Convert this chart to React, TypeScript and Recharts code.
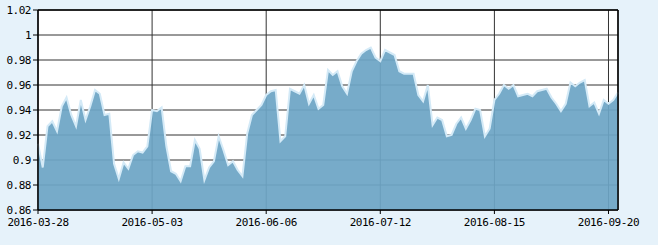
import { AreaChart, Area, XAxis, YAxis, CartesianGrid, ReferenceLine } from 'recharts';

// trading days, 2016-03-28 .. 2016-09-22 (weekends + CN holidays skipped)
const START = '2016-03-28';
const END = '2016-09-22';
const HOLIDAYS = ['2016-04-04', '2016-05-02', '2016-06-09', '2016-06-10', '2016-09-15', '2016-09-16'];

const buildDates = (): string[] => {
  const out: string[] = [];
  const d = new Date(START + 'T00:00:00Z');
  const end = new Date(END + 'T00:00:00Z');
  while (d <= end) {
    const s = d.toISOString().slice(0, 10);
    const wd = d.getUTCDay();
    if (wd !== 0 && wd !== 6 && !HOLIDAYS.includes(s)) out.push(s);
    d.setUTCDate(d.getUTCDate() + 1);
  }
  return out;
};

const DATES = buildDates();

const VALUES = [
  0.913, 0.894, 0.927, 0.931, 0.923, 0.943, 0.950, 0.936, 0.927, 0.948,
  0.932, 0.943, 0.956, 0.953, 0.936, 0.937, 0.897, 0.885, 0.898, 0.893,
  0.904, 0.907, 0.906, 0.911, 0.940, 0.939, 0.942, 0.911, 0.891, 0.889,
  0.883, 0.895, 0.895, 0.916, 0.909, 0.884, 0.894, 0.899, 0.919, 0.908,
  0.896, 0.899, 0.892, 0.887, 0.921, 0.936, 0.940, 0.944, 0.952, 0.955,
  0.956, 0.915, 0.919, 0.957, 0.955, 0.953, 0.960, 0.945, 0.952, 0.941,
  0.944, 0.972, 0.968, 0.971, 0.959, 0.953, 0.971, 0.979, 0.985, 0.988,
  0.990, 0.982, 0.979, 0.988, 0.986, 0.984, 0.971, 0.969, 0.969, 0.969,
  0.952, 0.947, 0.960, 0.928, 0.934, 0.932, 0.919, 0.920, 0.929, 0.934,
  0.925, 0.932, 0.941, 0.940, 0.919, 0.925, 0.948, 0.953, 0.960, 0.957,
  0.960, 0.951, 0.952, 0.953, 0.951, 0.955, 0.956, 0.957, 0.950, 0.945,
  0.939, 0.945, 0.962, 0.959, 0.962, 0.964, 0.943, 0.946, 0.937, 0.948,
  0.945, 0.948, 0.954,
];

const X_TICKS = ['2016-03-28', '2016-05-03', '2016-06-06', '2016-07-12', '2016-08-15', '2016-09-20'];
const Y_TICKS = [0.86, 0.88, 0.9, 0.92, 0.94, 0.96, 0.98, 1, 1.02];

const data = VALUES.map((v, i) => ({ date: DATES[i], value: v }));

const tickFont = { fontFamily: '"DejaVu Sans Mono", monospace', fontSize: 11, letterSpacing: -0.5, fill: '#000' };

export default function App() {
  return (
    <div style={{ position: 'absolute', left: 0, top: 0, width: 658, height: 245, background: '#e6f2fa' }}>
      <AreaChart width={658} height={245} data={data} margin={{ top: 10, right: 40, left: 0, bottom: 0 }}>
        <CartesianGrid fill="#fff" stroke="#333" strokeWidth={1} />
        <XAxis
          dataKey="date"
          ticks={X_TICKS}
          interval={0}
          height={35}
          tickSize={4}
          tickMargin={4}
          tick={tickFont}
          axisLine={{ stroke: '#000', strokeWidth: 1.5 }}
          tickLine={{ stroke: '#000' }}
        />
        <YAxis
          domain={[0.86, 1.02]}
          ticks={Y_TICKS}
          width={38}
          tickSize={5}
          tickMargin={2}
          tick={tickFont}
          tickFormatter={(v: number) => String(Number(v.toFixed(2)))}
          axisLine={{ stroke: '#000', strokeWidth: 1.5 }}
          tickLine={{ stroke: '#000' }}
        />
        <Area
          type="linear"
          dataKey="value"
          stroke="#d4eaf7"
          strokeWidth={2}
          fill="#6da5c5"
          fillOpacity={0.93}
          isAnimationActive={false}
        />
        <ReferenceLine y={1.02} stroke="#000" strokeWidth={1.5} />
        <ReferenceLine x={DATES[DATES.length - 1]} stroke="#000" strokeWidth={1.5} />
      </AreaChart>
    </div>
  );
}
